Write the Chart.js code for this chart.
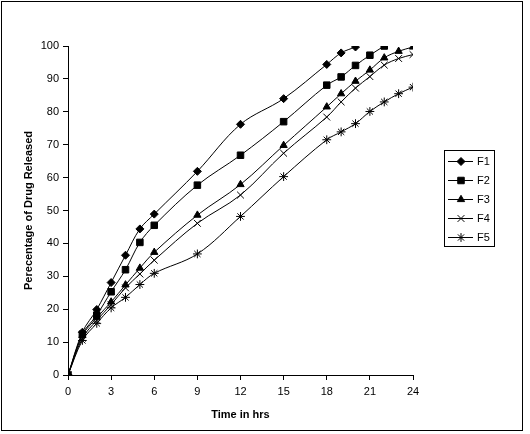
<!DOCTYPE html>
<html>
<head>
<meta charset="utf-8">
<script src="https://cdn.jsdelivr.net/npm/chart.js@4/dist/chart.umd.min.js"></script>
<style>
html,body{margin:0;padding:0;background:#fff;}
#wrap{width:530px;height:434px;position:relative;}
</style>
</head>
<body>
<div id="wrap"><canvas id="c" width="530" height="434"></canvas></div>
<script>
// ---- data ----
const seriesNames = ["F1", "F2", "F3", "F4", "F5"];
const timesF1 = [0,1,2,3,4,5,6,9,12,15,18,19,20];
const timesF2 = [0,1,2,3,4,5,6,9,12,15,18,19,20,21,22];
const timesF3toF5 = [0,1,2,3,4,5,6,9,12,15,18,19,20,21,22,23,24];
const valuesF1 = [0,13.0,19.9,28.1,36.4,44.4,48.9,61.9,76.2,84.0,94.4,97.9,99.7];
const valuesF2 = [0,12.4,18.2,25.3,32.0,40.3,45.5,57.7,66.8,77.0,88.1,90.6,94.1,97.2,100];
const valuesF3 = [0,12.0,17.4,22.2,27.4,32.5,37.3,48.6,57.9,69.8,81.5,85.5,89.3,92.7,96.4,98.4,99.7];
const valuesF4 = [0,11.2,16.6,21.4,26.5,30.7,34.9,46.1,54.7,67.4,78.4,83.0,87.2,90.7,94.2,96.2,97.4];
const valuesF5 = [0,10.5,15.7,20.4,23.6,27.5,30.9,36.8,48.2,60.3,71.5,73.9,76.4,80.1,83.0,85.5,87.5];
const xTicks = [0,3,6,9,12,15,18,21,24];
const yTicks = [0,10,20,30,40,50,60,70,80,90,100];
const xTitle = "Time in hrs";
const yTitle = "Perecentage of Drug Released";

const seriesTimes = [timesF1, timesF2, timesF3toF5, timesF3toF5, timesF3toF5];
const seriesValues = [valuesF1, valuesF2, valuesF3, valuesF4, valuesF5];
const styles = [
  {pointStyle:'rectRot', radius:4},
  {pointStyle:'rect', radius:4.6},
  {pointStyle:'triangle', radius:4.2},
  {pointStyle:'crossRot', radius:4.8},
  {pointStyle:'star', radius:4.4}
];

const datasets = seriesNames.map((name, i) => ({
  label: name,
  data: seriesTimes[i].map((t, j) => ({x: t, y: seriesValues[i][j]})),
  borderColor: '#000',
  backgroundColor: '#000',
  borderWidth: 1,
  pointStyle: styles[i].pointStyle,
  pointRadius: styles[i].radius,
  pointBorderWidth: 1,
  pointBorderColor: '#000',
  pointBackgroundColor: '#000',
  tension: 0.35,
  fill: false
}));

const FONT = "'Liberation Sans', Arial, sans-serif";

const legendPlugin = {
  id: 'customLegend',
  afterDraw(chart) {
    const ctx = chart.ctx;
    ctx.save();
    // outer border
    ctx.strokeStyle = '#000';
    ctx.lineWidth = 1;
    ctx.strokeRect(1.5, 1.5, 521, 429);
    // legend box
    ctx.strokeRect(444.5, 150.5, 50, 96);
    const ys = [161.5, 180.5, 199.5, 218.5, 237.5];
    ctx.font = "11px " + FONT;
    ctx.textBaseline = 'middle';
    ctx.textAlign = 'left';
    chart.data.datasets.forEach((ds, i) => {
      const y = ys[i];
      ctx.strokeStyle = '#000';
      ctx.lineWidth = 1;
      ctx.beginPath();
      ctx.moveTo(448, y);
      ctx.lineTo(473, y);
      ctx.stroke();
      ctx.fillStyle = '#000';
      Chart.helpers.drawPoint(ctx, {pointStyle: ds.pointStyle, radius: ds.pointRadius, borderWidth: 1, rotation: 0}, 461, y);
      ctx.fillStyle = '#000';
      ctx.fillText(ds.label, 477, y + 0.5);
    });
    ctx.restore();
  }
};

new Chart(document.getElementById('c'), {
  type: 'line',
  data: { datasets },
  plugins: [legendPlugin],
  options: {
    responsive: false,
    animation: false,
    devicePixelRatio: 1,
    layout: { padding: { left: 0, right: 117, top: 46, bottom: 0 } },
    plugins: { legend: { display: false }, tooltip: { enabled: false } },
    scales: {
      x: {
        type: 'linear',
        min: 0, max: 24,
        afterFit(s) { s.height = 59; },
        afterBuildTicks(s) { s.ticks = xTicks.map(v => ({value: v})); },
        grid: { display: true, drawOnChartArea: false, drawTicks: true, tickLength: 5, color: '#000' },
        border: { display: true, color: '#000', width: 1 },
        ticks: { color: '#000', font: { family: FONT, size: 11 }, padding: 5, maxRotation: 0 },
        title: { display: true, text: xTitle, color: '#000', font: { family: FONT, size: 11, weight: 'bold' }, padding: { top: 0, bottom: 12 } }
      },
      y: {
        min: 0, max: 100,
        afterFit(s) { s.width = 68; },
        afterBuildTicks(s) { s.ticks = yTicks.map(v => ({value: v})); },
        grid: { display: true, drawOnChartArea: false, drawTicks: true, tickLength: 5, color: '#000' },
        border: { display: true, color: '#000', width: 1 },
        ticks: { color: '#000', font: { family: FONT, size: 11 }, padding: 4 },
        title: { display: true, text: yTitle, color: '#000', font: { family: FONT, size: 11, weight: 'bold' }, padding: { top: 22, bottom: 0 } }
      }
    }
  }
});
</script>
</body>
</html>
